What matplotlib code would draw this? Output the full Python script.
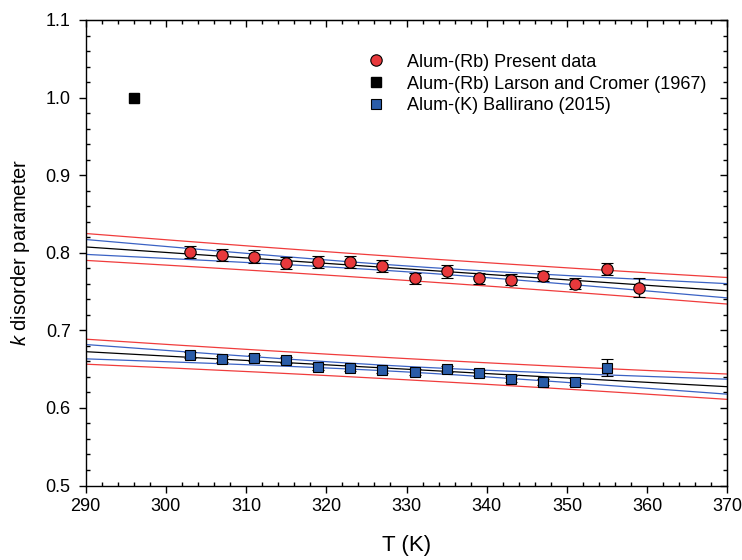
import numpy as np
import matplotlib.pyplot as plt
from matplotlib.lines import Line2D
from matplotlib.ticker import MultipleLocator

plt.rcParams['font.family'] = ['Liberation Sans', 'DejaVu Sans']
plt.rcParams['mathtext.fontset'] = 'custom'
plt.rcParams['mathtext.rm'] = 'Liberation Sans'
plt.rcParams['mathtext.it'] = 'Liberation Sans:italic'

# Alum-(Rb), present data
t_rb = [303, 307, 311, 315, 319, 323, 327, 331, 335, 339, 343, 347, 351, 355, 359]
k_rb = [0.801, 0.797, 0.795, 0.787, 0.788, 0.788, 0.783, 0.767, 0.776, 0.767,
        0.765, 0.770, 0.760, 0.779, 0.755]
err_rb = [0.008, 0.008, 0.008, 0.008, 0.008, 0.008, 0.008, 0.007, 0.008, 0.007,
          0.007, 0.007, 0.007, 0.008, 0.012]

# Alum-(K), Ballirano (2015)
t_k = [303, 307, 311, 315, 319, 323, 327, 331, 335, 339, 343, 347, 351, 355]
k_k = [0.668, 0.663, 0.664, 0.662, 0.653, 0.651, 0.649, 0.646, 0.650, 0.645,
       0.637, 0.633, 0.634, 0.652]
err_k = [0.004, 0.004, 0.004, 0.004, 0.004, 0.004, 0.004, 0.004, 0.004, 0.004,
         0.004, 0.004, 0.004, 0.011]

# Alum-(Rb), Larson and Cromer (1967)
t_lc = [296]
k_lc = [1.0]

labels = ['Alum-(Rb) Present data',
          'Alum-(Rb) Larson and Cromer (1967)',
          'Alum-(K) Ballirano (2015)']

RED = '#e8393c'
BLUE = '#2a5ca8'

# two-sided 95% Student t quantiles by degrees of freedom
T95 = {12: 2.1788, 13: 2.1604}


def fit_bands(x, y, xs):
    """Linear fit with 95% confidence and prediction half-widths."""
    x = np.asarray(x, float)
    y = np.asarray(y, float)
    n = len(x)
    b, a = np.polyfit(x, y, 1)
    s = np.sqrt(np.sum((y - (a + b * x)) ** 2) / (n - 2))
    lev = 1.0 / n + (xs - x.mean()) ** 2 / np.sum((x - x.mean()) ** 2)
    t = T95[n - 2]
    return a + b * xs, t * s * np.sqrt(lev), t * s * np.sqrt(1 + lev)


fig = plt.figure(figsize=(7.42, 5.6), dpi=100)
ax = fig.add_axes([0.1155, 0.133, 0.8647, 0.8313])

xs = np.linspace(290, 370, 200)
for t, k in ((t_rb, k_rb), (t_k, k_k)):
    fit, conf, pred = fit_bands(t, k, xs)
    ax.plot(xs, fit, color='black', lw=0.9, zorder=2)
    ax.plot(xs, fit + conf, color='#3a62c4', lw=0.9, zorder=2)
    ax.plot(xs, fit - conf, color='#3a62c4', lw=0.9, zorder=2)
    ax.plot(xs, fit + pred, color='#f03c3c', lw=0.9, zorder=2)
    ax.plot(xs, fit - pred, color='#f03c3c', lw=0.9, zorder=2)

ax.errorbar(t_rb, k_rb, yerr=err_rb, fmt='o', ms=8.2, mfc=RED, mec='black',
            mew=0.8, ecolor='black', elinewidth=1.0, capsize=4.3, capthick=1.0,
            zorder=3)
ax.plot(t_lc, k_lc, 's', ms=7.3, mfc='black', mec='black', zorder=3)
ax.errorbar(t_k, k_k, yerr=err_k, fmt='s', ms=7.3, mfc=BLUE, mec='black',
            mew=0.8, ecolor='black', elinewidth=1.0, capsize=4.3, capthick=1.0,
            zorder=3)

ax.set_xlim(290, 370)
ax.set_ylim(0.5, 1.1)
ax.set_xticks(np.arange(290, 371, 10))
ax.set_yticks(np.arange(0.5, 1.101, 0.1))
ax.yaxis.set_major_formatter(plt.FormatStrFormatter('%.1f'))
ax.xaxis.set_minor_locator(MultipleLocator(2))
ax.yaxis.set_minor_locator(MultipleLocator(0.02))
ax.tick_params(which='major', direction='out', length=5.3, width=1, labelsize=13)
ax.tick_params(axis='x', which='major', pad=4)
ax.tick_params(axis='y', which='major', pad=5.5)
ax.tick_params(which='minor', direction='in', length=2.8, width=1)
for sp in ax.spines.values():
    sp.set_linewidth(1)

# inward ticks on the top and right edges
top = ax.secondary_xaxis('top')
top.set_xticks(np.arange(290, 371, 10))
top.xaxis.set_minor_locator(MultipleLocator(2))
top.tick_params(which='major', direction='in', length=5, width=1, labeltop=False)
top.tick_params(which='minor', direction='in', length=2.8, width=1)
right = ax.secondary_yaxis('right')
right.set_yticks(np.arange(0.5, 1.101, 0.1))
right.yaxis.set_minor_locator(MultipleLocator(0.02))
right.tick_params(which='major', direction='in', length=5, width=1, labelright=False)
right.tick_params(which='minor', direction='in', length=2.8, width=1)

ax.set_xlabel('T (K)', fontsize=16, labelpad=14)
ax.set_ylabel('$k$ disorder parameter', fontsize=14.5, labelpad=10)

handles = [
    Line2D([], [], ls='none', marker='o', ms=8.2, mfc=RED, mec='black', mew=0.8),
    Line2D([], [], ls='none', marker='s', ms=7.3, mfc='black', mec='black'),
    Line2D([], [], ls='none', marker='s', ms=7.3, mfc=BLUE, mec='black', mew=0.8),
]
ax.legend(handles, labels, loc='upper left', bbox_to_anchor=(0.4385, 0.9275),
          frameon=False, fontsize=13, borderpad=0, borderaxespad=0,
          handlelength=1.0, handletextpad=1.2, labelspacing=0.27)

fig.savefig('out.png', dpi=100)
